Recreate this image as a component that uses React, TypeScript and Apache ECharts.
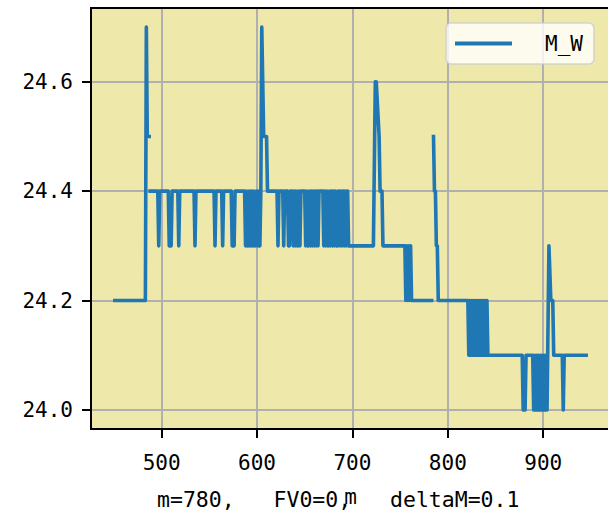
import React, { useEffect, useRef } from "react";
import * as echarts from "echarts";

const mValues: number[] = [
  451, 483, 484, 485, 487, 487, 488, 496, 497, 498, 507, 508, 510, 511, 517, 518, 519,
  534, 535, 536, 555, 556, 557, 563, 564, 565, 573, 574, 576, 577, 587,
  588, 589, 590, 591, 592, 593, 594, 595, 596, 597, 598, 599, 600, 601, 602, 603, 604,
  605, 607, 610, 611, 621, 622, 623, 627, 628, 629, 632, 633, 634, 635, 637,
  638, 639, 640, 641, 642, 643, 644, 645, 646, 650,
  651, 652, 653, 654, 655, 656, 657, 658, 659, 660, 661, 662, 663, 664, 665, 669,
  670, 671, 672, 673, 674, 675, 676, 677, 678, 679, 680, 681, 682, 683, 684, 685,
  686, 687, 688, 689, 690, 691, 692, 693, 694, 695, 696, 722,
  724, 725, 728, 729, 731, 732, 755, 756, 757, 758, 759, 760, 761, 762, 763, 783,
  784, 785, 786, 787, 788, 789, 790, 821,
  822, 823, 824, 825, 826, 827, 828, 829, 830, 831, 832, 833, 834, 835, 836, 837,
  838, 839, 840, 841, 842, 878, 879, 881, 882, 889,
  890, 891, 892, 893, 894, 895, 896, 897, 898, 899, 900, 901, 902, 903, 904,
  906, 908, 910, 911, 920, 921, 922, 945,
];

const mwValues: (number | null)[] = [
  24.2, 24.2, 24.7, 24.5, 24.5, null, 24.4, 24.4, 24.3, 24.4, 24.4, 24.3, 24.3, 24.4, 24.4, 24.3, 24.4,
  24.4, 24.3, 24.4, 24.4, 24.3, 24.4, 24.4, 24.3, 24.4, 24.4, 24.3, 24.3, 24.4, 24.4,
  24.3, 24.4, 24.3, 24.3, 24.4, 24.3, 24.4, 24.3, 24.4, 24.3, 24.3, 24.4, 24.3, 24.4, 24.3, 24.3, 24.4,
  24.7, 24.5, 24.5, 24.4, 24.4, 24.3, 24.4, 24.4, 24.3, 24.4, 24.4, 24.3, 24.3, 24.4, 24.4,
  24.3, 24.4, 24.3, 24.4, 24.3, 24.3, 24.4, 24.3, 24.4, 24.4,
  24.3, 24.4, 24.3, 24.3, 24.4, 24.3, 24.4, 24.3, 24.4, 24.3, 24.4, 24.3, 24.4, 24.3, 24.4, 24.4,
  24.3, 24.4, 24.3, 24.4, 24.3, 24.3, 24.4, 24.3, 24.4, 24.3, 24.4, 24.3, 24.4, 24.3, 24.3, 24.4,
  24.3, 24.4, 24.3, 24.4, 24.3, 24.4, 24.3, 24.4, 24.3, 24.4, 24.3, 24.3,
  24.6, 24.6, 24.5, 24.4, 24.4, 24.3, 24.3, 24.2, 24.3, 24.2, 24.3, 24.2, 24.3, 24.2, 24.2, 24.2,
  null, 24.5, 24.4, 24.4, 24.3, 24.3, 24.2, 24.2,
  24.1, 24.2, 24.1, 24.2, 24.1, 24.2, 24.1, 24.2, 24.1, 24.2, 24.1, 24.2, 24.1, 24.2, 24.1, 24.2,
  24.1, 24.2, 24.1, 24.2, 24.1, 24.1, 24.0, 24.0, 24.1, 24.1,
  24.0, 24.1, 24.0, 24.1, 24.0, 24.1, 24.0, 24.1, 24.0, 24.1, 24.0, 24.1, 24.0, 24.1, 24.0,
  24.3, 24.2, 24.2, 24.1, 24.1, 24.0, 24.1, 24.1,
];

const xTicks = [500, 600, 700, 800, 900];
const yTicks = [24.0, 24.2, 24.4, 24.6];
const seriesName = "M_W";
const xName = "m";
const subtitle = "m=780,   FV0=0,   deltaM=0.1";

const FONT = "DejaVu Sans Mono";

export default function App() {
  const ref = useRef<HTMLDivElement>(null);
  useEffect(() => {
    if (!ref.current) return;
    const chart = echarts.init(ref.current, null, { renderer: "svg" });
    const data = mValues.map((m, i) => [m, mwValues[i] === null ? "-" : mwValues[i]]);
    chart.setOption({
      animation: false,
      backgroundColor: "#ffffff",
      grid: {
        left: 91,
        top: 8,
        right: -2,
        bottom: 81,
        show: true,
        backgroundColor: "#EEE8AA",
        borderWidth: 0,
        containLabel: false,
        outerBoundsMode: "none",
      },
      title: {
        text: subtitle,
        left: 157,
        top: 489,
        padding: 0,
        textStyle: {
          fontFamily: FONT,
          fontSize: 21.5,
          lineHeight: 20,
          fontWeight: "normal",
          color: "#000",
        },
      },
      legend: {
        show: true,
        left: 446,
        top: 23,
        padding: [10, 11, 10, 9],
        backgroundColor: "rgba(255,255,255,0.8)",
        borderColor: "rgba(204,204,204,0.8)",
        borderWidth: 1.5,
        borderRadius: 5,
        itemWidth: 57,
        itemHeight: 4,
        data: [{ name: seriesName, icon: "rect" }],
        textStyle: { fontFamily: FONT, fontSize: 21, color: "#000", padding: [0, 0, 0, 28] },
      },
      xAxis: {
        type: "value",
        min: 426,
        max: 970,
        name: xName,
        nameLocation: "middle",
        nameGap: 63,
        nameTextStyle: { fontFamily: FONT, fontSize: 21, lineHeight: 10, color: "#000" },
        axisLine: { show: false },
        axisTick: { show: true, length: 9, lineStyle: { color: "#000", width: 2 }, customValues: xTicks },
        axisLabel: { customValues: xTicks, margin: 23, fontFamily: FONT, fontSize: 21, color: "#000" },
        splitLine: { show: true, lineStyle: { color: "#b0b0b0", width: 2 } },
      },
      yAxis: {
        type: "value",
        min: 23.965,
        max: 24.735,
        axisLine: { show: false },
        axisTick: { show: true, length: 9, lineStyle: { color: "#000", width: 2 }, customValues: yTicks },
        axisLabel: {
          customValues: yTicks,
          margin: 18,
          fontFamily: FONT,
          fontSize: 21,
          color: "#000",
          formatter: (v: number) => v.toFixed(1),
        },
        splitLine: { show: true, lineStyle: { color: "#b0b0b0", width: 2 } },
      },
      graphic: [
        {
          type: "rect",
          z: 100,
          shape: { x: 91, y: 8, width: 540, height: 421 },
          style: { fill: "none", stroke: "#000", lineWidth: 2 },
          silent: true,
        },
      ],
      series: [
        {
          type: "line",
          name: seriesName,
          data,
          symbol: "none",
          showSymbol: false,
          connectNulls: false,
          lineStyle: { color: "#1f77b4", width: 3.6, cap: "square", join: "round" },
          itemStyle: { color: "#1f77b4" },
        },
      ],
    });
    return () => chart.dispose();
  }, []);
  return (
    <div
      ref={ref}
      style={{ position: "fixed", left: 0, top: 0, width: 608, height: 510 }}
    />
  );
}
